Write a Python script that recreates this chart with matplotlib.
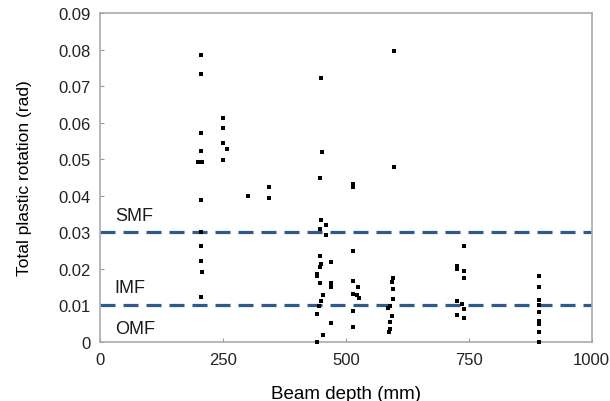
import matplotlib
matplotlib.use("Agg")
import matplotlib.pyplot as plt

plt.rcParams['font.family'] = ['Liberation Sans', 'DejaVu Sans']

depth = [205, 205, 205, 205, 200, 208, 205, 205, 205, 205, 207, 205,
         250, 250, 250, 258, 250,
         300, 343, 343,
         449, 451, 447, 449, 459, 447, 459, 447, 449, 447, 441, 441, 447, 453, 449, 445, 441, 453, 441,
         470, 470, 470, 470,
         514, 514, 514, 514, 524, 514, 522, 526, 514, 514,
         598, 598, 595, 593, 595, 595, 590, 585, 593, 590, 590, 588,
         740, 727, 727, 740, 740, 727, 736, 740, 727, 740,
         892, 892, 892, 892, 892, 892, 892, 892, 892]
rotation = [0.0785, 0.0733, 0.0572, 0.0522, 0.0492, 0.0492, 0.0388, 0.0300, 0.0262, 0.0222, 0.0190, 0.0123,
            0.0613, 0.0585, 0.0544, 0.0528, 0.0498,
            0.0399, 0.0424, 0.0393,
            0.0722, 0.0520, 0.0449, 0.0334, 0.0320, 0.0310, 0.0293, 0.0235, 0.0213, 0.0204, 0.0186, 0.0180, 0.0161, 0.0129, 0.0112, 0.0098, 0.0077, 0.0019, 0.0,
            0.0219, 0.0161, 0.0150, 0.0052,
            0.0432, 0.0425, 0.0249, 0.0167, 0.0150, 0.0131, 0.0129, 0.0120, 0.0085, 0.0040,
            0.0796, 0.0479, 0.0175, 0.0164, 0.0145, 0.0118, 0.0098, 0.0093, 0.0071, 0.0055, 0.0036, 0.0027,
            0.0263, 0.0208, 0.0200, 0.0194, 0.0175, 0.0112, 0.0104, 0.0090, 0.0074, 0.0065,
            0.0180, 0.0150, 0.0115, 0.0101, 0.0082, 0.0057, 0.0049, 0.0027, 0.0]

limit_values = [0.03, 0.01]
zone_labels = ['SMF', 'IMF', 'OMF']
zone_label_y = [0.0347, 0.0150, 0.0036]

x_ticks = [0, 250, 500, 750, 1000]
y_ticks = [0, 0.01, 0.02, 0.03, 0.04, 0.05, 0.06, 0.07, 0.08, 0.09]
y_tick_labels = ['0', '0.01', '0.02', '0.03', '0.04', '0.05', '0.06', '0.07', '0.08', '0.09']

fig = plt.figure(figsize=(6.10, 4.02), dpi=100)
ax = fig.add_axes([0.164, 0.147, 0.806, 0.818])

for v in limit_values:
    ax.axhline(v, color='#2E5A8C', lw=2.3, dashes=(4.7, 2.5), zorder=2)

ax.scatter(depth, rotation, marker='s', s=10, color='black', linewidths=0, zorder=3, clip_on=False)

for lab, yy in zip(zone_labels, zone_label_y):
    ax.text(30, yy, lab, fontsize=13, va='center', ha='left', color='#1a1a1a')

ax.set_xlim(0, 1000)
ax.set_ylim(0, 0.09)
ax.set_xticks(x_ticks)
ax.set_xticklabels([str(t) for t in x_ticks])
ax.set_yticks(y_ticks)
ax.set_yticklabels(y_tick_labels)
ax.tick_params(direction='in', length=3, color='#999999', labelsize=12, labelcolor='#222222', pad=7)

for sp in ax.spines.values():
    sp.set_color('#aaaaaa')
    sp.set_linewidth(1.2)

ax.set_xlabel('Beam depth (mm)', fontsize=13.5, labelpad=13)
ax.set_ylabel('Total plastic rotation (rad)', fontsize=12.5, labelpad=19)

fig.savefig('out.png', dpi=100)
